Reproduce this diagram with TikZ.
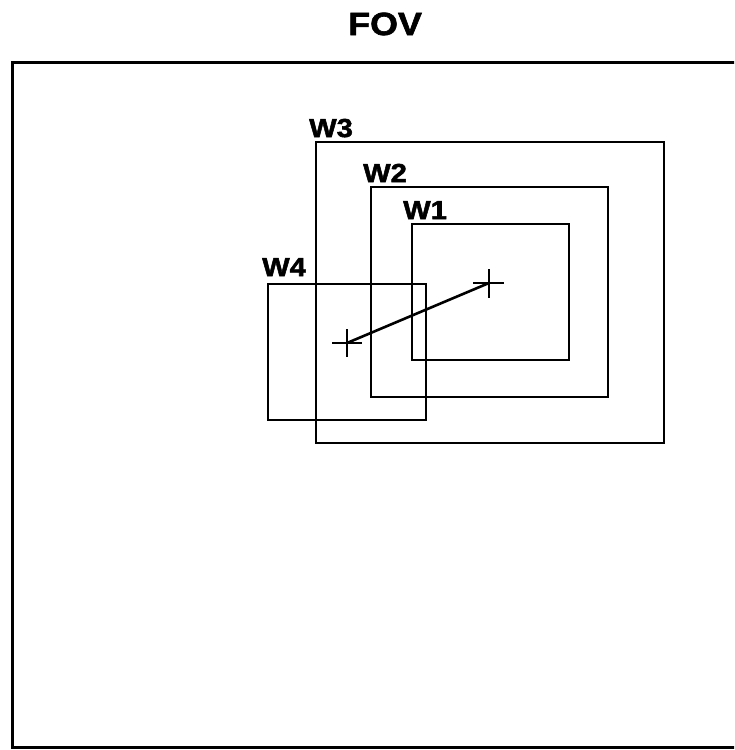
\documentclass[tikz,border=0pt]{standalone}
\usepackage{fontspec}
\setmainfont{Liberation Sans}[FakeStretch=1.12,FakeBold=2]
\begin{document}
\begin{tikzpicture}[x=1pt,y=-1pt,
  frame/.style={line width=2.6pt},
  winbox/.style={line width=2.3pt},
  lbl/.style={font=\fontsize{26}{26}\selectfont\bfseries,anchor=base west,inner sep=0pt},
  ttl/.style={font=\fontsize{32}{32}\selectfont\bfseries,anchor=base west,inner sep=0pt},
  crossln/.style={line width=2.2pt}]
\useasboundingbox (0,0) rectangle (734,750);
\fill[white] (0,0) rectangle (734,750);
\begin{scope}
\clip (0,0) rectangle (734,750);
\draw[frame] (12.5,62.5) rectangle (745,747.5);
\end{scope}
\node[ttl] (fov) at (348,35) {FOV};
% windows
\draw[winbox] (316,142) rectangle (664,443);
\draw[winbox] (371,187) rectangle (608,397);
\draw[winbox] (412,224) rectangle (569,360);
\draw[winbox] (268,284) rectangle (426,420);
\node[lbl] (w3) at (309,137) {W3};
\node[lbl] (w2) at (363,182) {W2};
\node[lbl] (w1) at (403,219) {W1};
\node[lbl] (w4) at (262,276) {W4};
% crosses
\coordinate (c1) at (347,343);
\coordinate (c2) at (489,283);
\draw[crossln] ([xshift=-15pt]c1) -- ([xshift=15pt]c1);
\draw[crossln] ([yshift=14pt]c1) -- ([yshift=-14pt]c1);
\draw[crossln] ([xshift=-16pt]c2) -- ([xshift=15pt]c2);
\draw[crossln] ([yshift=14pt]c2) -- ([yshift=-15pt]c2);
\draw[line width=2.6pt] (c1) -- (c2);
\end{tikzpicture}
\end{document}
